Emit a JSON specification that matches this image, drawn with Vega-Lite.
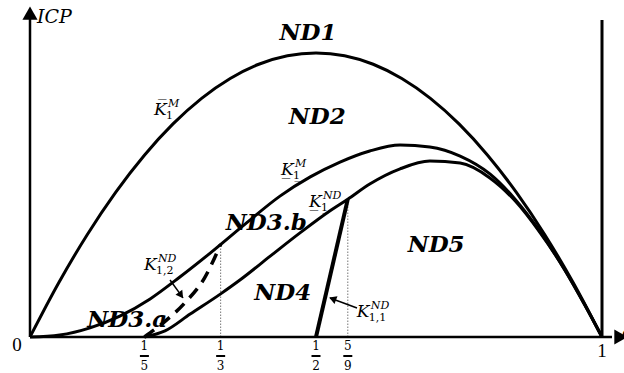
{
  "$schema": "https://vega.github.io/schema/vega-lite/v6.json",
  "width": 624,
  "height": 373,
  "autosize": "none",
  "padding": 0,
  "background": "white",
  "config": {"view": {"stroke": null}},
  "datasets": {
    "k1m_upper": [
      {"x": 0, "y": 0}, {"x": 0.05, "y": 0.1602}, {"x": 0.1, "y": 0.3035}, {"x": 0.15, "y": 0.4299},
      {"x": 0.2, "y": 0.5395}, {"x": 0.25, "y": 0.6323}, {"x": 0.3, "y": 0.7081}, {"x": 0.35, "y": 0.7671},
      {"x": 0.4, "y": 0.8093}, {"x": 0.45, "y": 0.8346}, {"x": 0.5, "y": 0.843}, {"x": 0.55, "y": 0.8346},
      {"x": 0.6, "y": 0.8093}, {"x": 0.65, "y": 0.7671}, {"x": 0.7, "y": 0.7081}, {"x": 0.75, "y": 0.6323},
      {"x": 0.8, "y": 0.5395}, {"x": 0.85, "y": 0.4299}, {"x": 0.9, "y": 0.3035}, {"x": 0.95, "y": 0.1602},
      {"x": 1, "y": 0}
    ],
    "k1m_lower": [
      {"x": 0, "y": 0}, {"x": 0.052, "y": 0.006}, {"x": 0.105, "y": 0.027}, {"x": 0.157, "y": 0.062},
      {"x": 0.21, "y": 0.113}, {"x": 0.262, "y": 0.178}, {"x": 0.315, "y": 0.249}, {"x": 0.376, "y": 0.335},
      {"x": 0.437, "y": 0.418}, {"x": 0.49, "y": 0.475}, {"x": 0.542, "y": 0.519}, {"x": 0.594, "y": 0.552},
      {"x": 0.647, "y": 0.57}, {"x": 0.699, "y": 0.564}, {"x": 0.752, "y": 0.537}, {"x": 0.804, "y": 0.484},
      {"x": 0.848, "y": 0.409}, {"x": 0.892, "y": 0.312}, {"x": 0.935, "y": 0.199}, {"x": 0.97, "y": 0.095},
      {"x": 1, "y": 0}
    ],
    "k1nd": [
      {"x": 0.2, "y": 0}, {"x": 0.236, "y": 0.018}, {"x": 0.28, "y": 0.068}, {"x": 0.3333, "y": 0.128},
      {"x": 0.367, "y": 0.169}, {"x": 0.42, "y": 0.24}, {"x": 0.472, "y": 0.309}, {"x": 0.524, "y": 0.374},
      {"x": 0.5556, "y": 0.409}, {"x": 0.594, "y": 0.454}, {"x": 0.647, "y": 0.499}, {"x": 0.699, "y": 0.522},
      {"x": 0.752, "y": 0.516}, {"x": 0.804, "y": 0.472}, {"x": 0.848, "y": 0.404}, {"x": 0.892, "y": 0.309},
      {"x": 0.935, "y": 0.199}, {"x": 0.97, "y": 0.095}, {"x": 1, "y": 0}
    ],
    "k12nd": [
      {"x": 0.2, "y": 0}, {"x": 0.235, "y": 0.045}, {"x": 0.27, "y": 0.1}, {"x": 0.305, "y": 0.175},
      {"x": 0.3333, "y": 0.275}
    ],
    "k11nd": [{"x": 0.5, "y": 0}, {"x": 0.5556, "y": 0.409}],
    "guides": [{"x": 0.3333, "y": 0, "y2": 0.275}, {"x": 0.5556, "y": 0, "y2": 0.409}],
    "regions": [
      {"x": 0.486, "y": 0.902, "text": "ND1"},
      {"x": 0.502, "y": 0.653, "text": "ND2"},
      {"x": 0.413, "y": 0.338, "text": "ND3.b"},
      {"x": 0.17, "y": 0.05, "text": "ND3.a"},
      {"x": 0.442, "y": 0.131, "text": "ND4"},
      {"x": 0.71, "y": 0.273, "text": "ND5"}
    ],
    "klabels": [
      {"x": 0.2185, "y": 0.659, "base": "K\u0305", "sub": "1", "sup": "M"},
      {"x": 0.4406, "y": 0.481, "base": "K\u0332", "sub": "1\u0332", "sup": "M"},
      {"x": 0.4895, "y": 0.386, "base": "K\u0332", "sub": "1\u0332", "sup": "ND"},
      {"x": 0.201, "y": 0.199, "base": "K", "sub": "1,2", "sup": "ND"},
      {"x": 0.573, "y": 0.059, "base": "K", "sub": "1,1", "sup": "ND"}
    ],
    "fractions": [
      {"x": 0.2, "y": 0, "num": "1", "den": "5"},
      {"x": 0.3333, "y": 0, "num": "1", "den": "3"},
      {"x": 0.5, "y": 0, "num": "1", "den": "2"},
      {"x": 0.5556, "y": 0, "num": "5", "den": "9"}
    ]
  },
  "encoding": {
    "x": {"field": "x", "type": "quantitative", "axis": null,
          "scale": {"domain": [-0.05245, 1.03846], "nice": false, "zero": false}},
    "y": {"field": "y", "type": "quantitative", "axis": null,
          "scale": {"domain": [-0.10682, 1], "nice": false, "zero": false}}
  },
  "layer": [
    {
      "data": {"name": "guides"},
      "mark": {"type": "rule", "color": "#777777", "strokeWidth": 1, "strokeDash": [1.5, 1.5]},
      "encoding": {"y2": {"field": "y2"}}
    },
    {
      "data": {"values": [{"x": 0, "x2": 1.0175, "y": 0}]},
      "mark": {"type": "rule", "color": "black", "strokeWidth": 2.5},
      "encoding": {"x2": {"field": "x2"}}
    },
    {
      "data": {"values": [{"x": 0, "y": 0, "y2": 0.947}]},
      "mark": {"type": "rule", "color": "black", "strokeWidth": 2.5},
      "encoding": {"y2": {"field": "y2"}}
    },
    {
      "data": {"values": [{"x": 0, "y": 0.961}]},
      "mark": {"type": "point", "shape": "triangle-up", "filled": true, "color": "black", "opacity": 1, "size": 230}
    },
    {
      "data": {"values": [{"x": 1.033, "y": 0}]},
      "mark": {"type": "point", "shape": "triangle-right", "filled": true, "color": "black", "opacity": 1, "size": 230}
    },
    {
      "data": {"values": [{"x": 1, "y": 0, "y2": 0.941}]},
      "mark": {"type": "rule", "color": "black", "strokeWidth": 3},
      "encoding": {"y2": {"field": "y2"}}
    },
    {
      "data": {"name": "k1m_upper"},
      "mark": {"type": "line", "color": "black", "strokeWidth": 3, "interpolate": "monotone"}
    },
    {
      "data": {"name": "k1m_lower"},
      "mark": {"type": "line", "color": "black", "strokeWidth": 3, "interpolate": "monotone"}
    },
    {
      "data": {"name": "k1nd"},
      "mark": {"type": "line", "color": "black", "strokeWidth": 3, "interpolate": "monotone"}
    },
    {
      "data": {"name": "k12nd"},
      "mark": {"type": "line", "color": "black", "strokeWidth": 3.5, "strokeDash": [12, 8], "interpolate": "monotone"}
    },
    {
      "data": {"name": "k11nd"},
      "mark": {"type": "line", "color": "black", "strokeWidth": 4}
    },
    {
      "data": {"values": [
        {"x": 0.2448, "y": 0.169, "x2": 0.2675, "y2": 0.116},
        {"x": 0.5717, "y": 0.086, "x2": 0.5245, "y2": 0.1157}
      ]},
      "mark": {"type": "rule", "color": "black", "strokeWidth": 1.5},
      "encoding": {"x2": {"field": "x2"}, "y2": {"field": "y2"}}
    },
    {
      "data": {"values": [{"x": 0.264, "y": 0.124}]},
      "mark": {"type": "point", "shape": "triangle-up", "filled": true, "color": "black", "opacity": 1, "size": 70, "angle": 144}
    },
    {
      "data": {"values": [{"x": 0.529, "y": 0.113}]},
      "mark": {"type": "point", "shape": "triangle-up", "filled": true, "color": "black", "opacity": 1, "size": 70, "angle": 291}
    },
    {
      "data": {"name": "regions"},
      "mark": {"type": "text", "font": "DejaVu Serif", "fontSize": 23, "fontWeight": "bold", "fontStyle": "italic",
               "align": "center", "baseline": "middle", "color": "black"},
      "encoding": {"text": {"field": "text"}}
    },
    {
      "data": {"name": "klabels"},
      "mark": {"type": "text", "font": "DejaVu Serif", "fontSize": 17, "fontStyle": "italic",
               "align": "left", "baseline": "alphabetic", "dx": -1, "color": "black"},
      "encoding": {"text": {"field": "base"}}
    },
    {
      "data": {"name": "klabels"},
      "mark": {"type": "text", "font": "DejaVu Serif", "fontSize": 11,
               "align": "left", "baseline": "alphabetic", "dx": 11, "dy": 4, "color": "black"},
      "encoding": {"text": {"field": "sub"}}
    },
    {
      "data": {"name": "klabels"},
      "mark": {"type": "text", "font": "DejaVu Serif", "fontSize": 11, "fontStyle": "italic",
               "align": "left", "baseline": "alphabetic", "dx": 13, "dy": -8, "color": "black"},
      "encoding": {"text": {"field": "sup"}}
    },
    {
      "data": {"name": "fractions"},
      "mark": {"type": "text", "font": "DejaVu Serif", "fontSize": 12, "align": "center", "baseline": "middle", "dy": 9, "color": "black"},
      "encoding": {"text": {"field": "num"}}
    },
    {
      "data": {"name": "fractions"},
      "mark": {"type": "tick", "orient": "horizontal", "color": "black", "size": 9, "thickness": 2, "opacity": 1},
      "encoding": {"yOffset": {"value": 19}}
    },
    {
      "data": {"name": "fractions"},
      "mark": {"type": "text", "font": "DejaVu Serif", "fontSize": 12, "align": "center", "baseline": "middle", "dy": 29, "color": "black"},
      "encoding": {"text": {"field": "den"}}
    },
    {
      "data": {"values": [{"x": -0.0227, "y": -0.0237, "t": "0"}, {"x": 1, "y": -0.0415, "t": "1"}]},
      "mark": {"type": "text", "font": "Liberation Serif", "fontSize": 19, "align": "center", "baseline": "middle", "color": "black"},
      "encoding": {"text": {"field": "t"}}
    },
    {
      "data": {"values": [{"x": 0.0122, "y": 0.9496, "t": "ICP"}]},
      "mark": {"type": "text", "font": "DejaVu Serif", "fontSize": 19, "fontStyle": "italic", "align": "left", "baseline": "middle", "color": "black"},
      "encoding": {"text": {"field": "t"}}
    },
    {
      "data": {"values": [{"x": 1.035, "y": -0.003, "t": "c"}]},
      "mark": {"type": "text", "font": "DejaVu Serif", "fontSize": 17, "fontStyle": "italic", "align": "left", "baseline": "alphabetic", "color": "black"},
      "encoding": {"text": {"field": "t"}}
    }
  ]
}
